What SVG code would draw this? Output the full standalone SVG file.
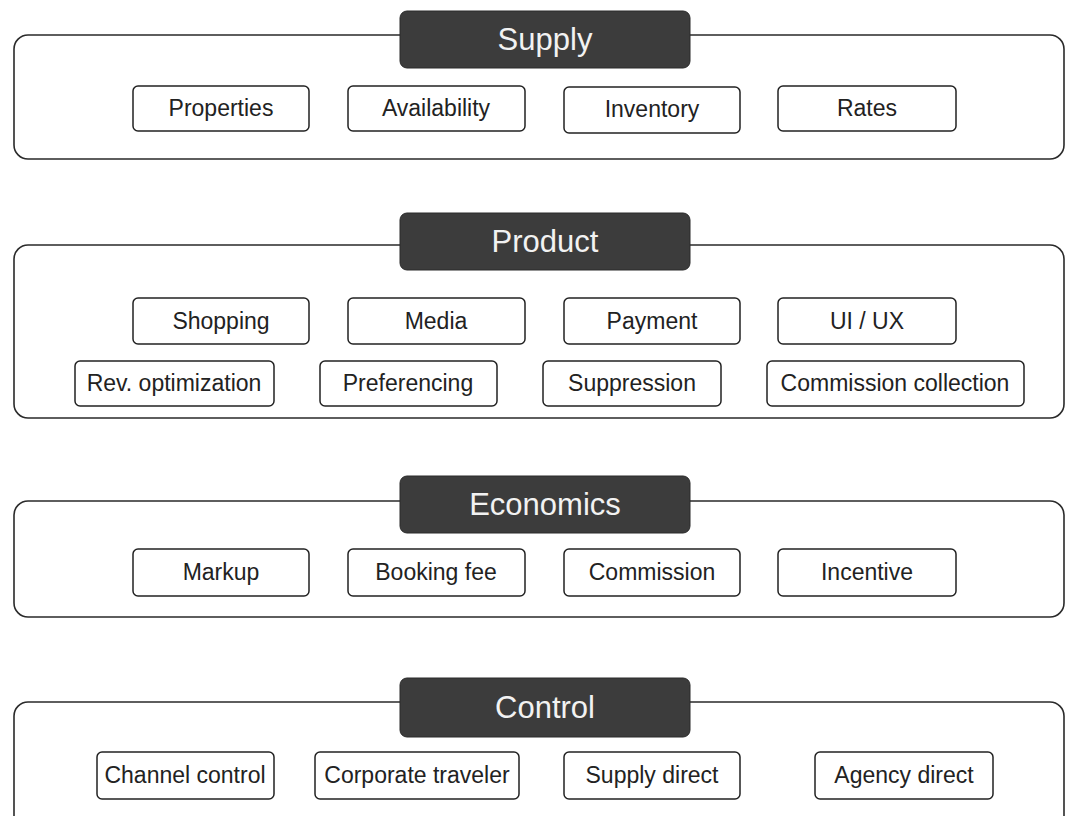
<svg xmlns="http://www.w3.org/2000/svg" width="1066" height="816" viewBox="0 0 1066 816">
  <style>
    .panel { fill: #ffffff; stroke: #2a2a2a; stroke-width: 1.6; }
    .title { fill: #3c3c3c; stroke: #2a2a2a; stroke-width: 1; }
    .title-text { font-family: "Liberation Sans", Arial, sans-serif; font-size: 31px; fill: #f2f2f2; text-anchor: middle; }
    .item { fill: #ffffff; stroke: #222222; stroke-width: 1.5; }
    .item-text { font-family: "Liberation Sans", Arial, sans-serif; font-size: 23px; fill: #222222; text-anchor: middle; }
  </style>
  <rect width="1066" height="816" fill="#ffffff"/>

  <!-- Supply layer -->
  <g id="supply">
    <rect class="panel" x="14" y="35" width="1050" height="124" rx="14"/>
    <rect class="title" x="400" y="11" width="290" height="57" rx="7"/>
    <text class="title-text" x="545" y="50">Supply</text>
    <g id="properties"><rect class="item" x="133" y="86" width="176" height="45" rx="5"/><text class="item-text" x="221" y="116">Properties</text></g>
    <g id="availability"><rect class="item" x="348" y="86" width="177" height="45" rx="5"/><text class="item-text" x="436" y="116">Availability</text></g>
    <g id="inventory"><rect class="item" x="564" y="87" width="176" height="46" rx="5"/><text class="item-text" x="652" y="117">Inventory</text></g>
    <g id="rates"><rect class="item" x="778" y="86" width="178" height="45" rx="5"/><text class="item-text" x="867" y="116">Rates</text></g>
  </g>

  <!-- Product layer -->
  <g id="product">
    <rect class="panel" x="14" y="245" width="1050" height="173" rx="14"/>
    <rect class="title" x="400" y="213" width="290" height="57" rx="7"/>
    <text class="title-text" x="545" y="252">Product</text>
    <g id="shopping"><rect class="item" x="133" y="298" width="176" height="46" rx="5"/><text class="item-text" x="221" y="329">Shopping</text></g>
    <g id="media"><rect class="item" x="348" y="298" width="177" height="46" rx="5"/><text class="item-text" x="436" y="329">Media</text></g>
    <g id="payment"><rect class="item" x="564" y="298" width="176" height="46" rx="5"/><text class="item-text" x="652" y="329">Payment</text></g>
    <g id="ui-ux"><rect class="item" x="778" y="298" width="178" height="46" rx="5"/><text class="item-text" x="867" y="329">UI / UX</text></g>
    <g id="rev-optimization"><rect class="item" x="75" y="361" width="199" height="45" rx="5"/><text class="item-text" x="174" y="391">Rev. optimization</text></g>
    <g id="preferencing"><rect class="item" x="320" y="361" width="177" height="45" rx="5"/><text class="item-text" x="408" y="391">Preferencing</text></g>
    <g id="suppression"><rect class="item" x="543" y="361" width="178" height="45" rx="5"/><text class="item-text" x="632" y="391">Suppression</text></g>
    <g id="commission-collection"><rect class="item" x="767" y="361" width="257" height="45" rx="5"/><text class="item-text" x="895" y="391">Commission collection</text></g>
  </g>

  <!-- Economics layer -->
  <g id="economics">
    <rect class="panel" x="14" y="501" width="1050" height="116" rx="14"/>
    <rect class="title" x="400" y="476" width="290" height="57" rx="7"/>
    <text class="title-text" x="545" y="515">Economics</text>
    <g id="markup"><rect class="item" x="133" y="549" width="176" height="47" rx="5"/><text class="item-text" x="221" y="580">Markup</text></g>
    <g id="booking-fee"><rect class="item" x="348" y="549" width="177" height="47" rx="5"/><text class="item-text" x="436" y="580">Booking fee</text></g>
    <g id="commission"><rect class="item" x="564" y="549" width="176" height="47" rx="5"/><text class="item-text" x="652" y="580">Commission</text></g>
    <g id="incentive"><rect class="item" x="778" y="549" width="178" height="47" rx="5"/><text class="item-text" x="867" y="580">Incentive</text></g>
  </g>

  <!-- Control layer -->
  <g id="control">
    <rect class="panel" x="14" y="702" width="1050" height="130" rx="14"/>
    <rect class="title" x="400" y="678" width="290" height="59" rx="7"/>
    <text class="title-text" x="545" y="718">Control</text>
    <g id="channel-control"><rect class="item" x="97" y="752" width="177" height="47" rx="5"/><text class="item-text" x="185" y="783">Channel control</text></g>
    <g id="corporate-traveler"><rect class="item" x="315" y="752" width="204" height="47" rx="5"/><text class="item-text" x="417" y="783">Corporate traveler</text></g>
    <g id="supply-direct"><rect class="item" x="564" y="752" width="176" height="47" rx="5"/><text class="item-text" x="652" y="783">Supply direct</text></g>
    <g id="agency-direct"><rect class="item" x="815" y="752" width="178" height="47" rx="5"/><text class="item-text" x="904" y="783">Agency direct</text></g>
  </g>

  <!-- no connectors between layers -->
  <g id="connectors"/>
</svg>
